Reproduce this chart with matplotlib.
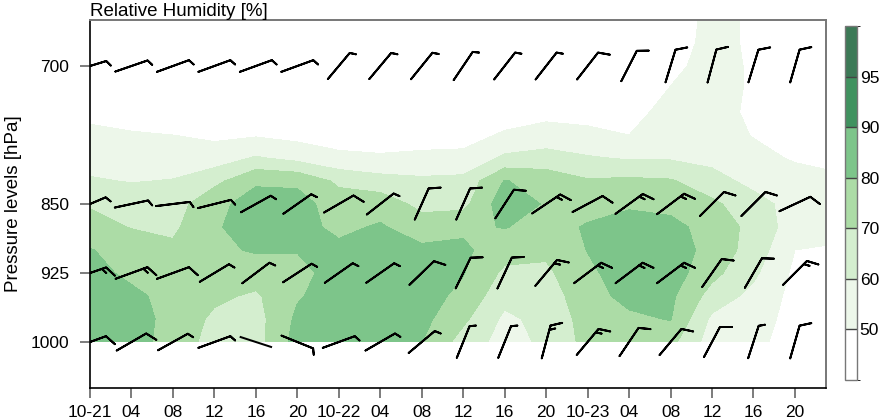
import numpy as np
import matplotlib
matplotlib.use('Agg')
import matplotlib.pyplot as plt
from matplotlib.colors import ListedColormap, BoundaryNorm

plt.rcParams['font.family'] = ['Liberation Sans', 'DejaVu Sans']

# ---------------- data ----------------
hours = [0, 4, 8, 12, 16, 20, 24, 28, 32, 36, 40, 44, 48, 52, 56, 60, 64, 68, 71]
plevs = [1000, 975, 950, 925, 900, 875, 850, 825, 800, 775, 750, 725, 700, 675, 650]

rh_1000 = [85, 84, 76, 66, 66, 84, 86, 87, 80, 66, 56, 62, 73, 74, 73, 55, 53, 45, 44]
rh_975 = [86, 84, 77, 68, 66, 82, 86, 87, 83, 72, 58, 63, 74, 78, 80.5, 58, 55, 46, 45]
rh_950 = [85, 82, 77, 72, 68.5, 79, 85, 86, 84, 77.5, 63, 65, 76, 83, 82, 66, 57, 47, 46]
rh_925 = [83, 78, 75, 75, 75, 77, 84, 85, 84, 80.5, 68, 68, 78, 85, 85, 73, 62, 48, 47]
rh_900 = [80.5, 76, 72, 78, 81, 80.5, 82, 84, 82, 82, 74, 72, 80.3, 85, 86, 76, 66, 50, 49]
rh_875 = [74, 69.5, 68, 79, 84, 83, 78, 81, 75, 78, 80.5, 76, 81, 83, 83, 76, 67, 55, 54]
rh_850 = [69, 66, 65, 78, 83, 84, 75, 76, 67, 67, 86, 79, 76, 79, 77, 72, 64, 56, 55]
rh_825 = [61, 59.5, 60.5, 67, 79, 78, 68, 64, 62, 63, 80.5, 76, 71, 72, 71, 64, 57, 54, 52]
rh_800 = [56, 56, 55, 55, 61, 57, 52, 51, 52, 52, 62, 64, 61, 59, 59, 57, 53, 49, 48]
rh_775 = [53.5, 51, 50, 48, 49, 47, 46, 46, 46, 47, 51, 54, 52, 50, 55, 55, 49.5, 46, 45]
rh_750 = [46, 45, 45, 45, 45, 46, 43, 43, 43, 44, 46, 47, 47, 47, 53, 54, 48, 44, 43]
rh_725 = [40, 41, 41, 42, 41, 42, 41, 41, 41, 42, 43, 44, 44, 45, 50.3, 53, 49, 43, 42]
rh_700 = [38, 38, 38, 39, 39, 40, 39, 39, 39, 40, 41, 42, 42, 43, 48, 53, 49, 42, 41]
rh_675 = [36, 36, 36, 37, 37, 38, 37, 37, 37, 38, 39, 40, 40, 41, 47, 52, 49, 41, 40]
rh_650 = [35, 35, 35, 36, 36, 36, 36, 36, 36, 37, 38, 39, 39, 40, 46, 52, 49, 40, 39]

rh_levels = [0, 50, 60, 70, 80, 90, 95, 100]
rh_colors = ['#ffffff', '#edf7ea', '#d4eecf', '#acdca6', '#7dc58a', '#40925f', '#3c7956']

# wind barbs (every 4 h), tip angle on screen (deg, CCW from +x) and speed
barb_hours = [0, 4, 8, 12, 16, 20, 24, 28, 32, 36, 40, 44, 48, 52, 56, 60, 64, 68]
barb_levels = [700, 850, 925, 1000]
ang_700 = [17, 19, 20, 20, 20, 20, 50, 50, 51, 56, 52, 52, 52, 63, 73, 75, 73, 74]
spd_700 = [5, 5, 5, 5, 5, 5, 5, 5, 5, 5, 5, 5, 10, 10, 10, 10, 10, 10]
ang_850 = [23, 12, 7, 14, 29, 35, 30, 38, 66, 66, 57, 34, 28, 36, 37, 45, 45, 25]
spd_850 = [5, 5, 5, 5, 5, 5, 10, 5, 10, 10, 10, 15, 10, 15, 15, 10, 10, 10]
ang_925 = [19, 20, 20, 31, 37, 33, 35, 35, 44, 64, 65, 50, 37, 37, 37, 55, 60, 45]
spd_925 = [15, 15, 10, 5, 5, 5, 5, 5, 10, 10, 10, 15, 15, 15, 15, 10, 10, 15]
ang_1000 = [20, 30, 29, 20, -18, -22, 20, 30, 40, 68, 68, 75, 50, 56, 50, 62, 72, 74]
spd_1000 = [10, 10, 5, 5, 0, 5, 5, 5, 5, 5, 5, 15, 15, 10, 10, 10, 5, 10]

xtick_hours = list(range(0, 69, 4))
xtick_labels = ['10-21', '04', '08', '12', '16', '20', '10-22', '04', '08', '12',
                '16', '20', '10-23', '04', '08', '12', '16', '20']
ytick_vals = [700, 850, 925, 1000]

# ---------------- figure ----------------
W, H = 880, 418
fig = plt.figure(figsize=(W / 100, H / 100), dpi=100)
ax = fig.add_axes([90 / W, (H - 388) / H, 736 / W, 368 / H])

rh = np.array([rh_1000, rh_975, rh_950, rh_925, rh_900, rh_875, rh_850, rh_825,
               rh_800, rh_775, rh_750, rh_725, rh_700, rh_675, rh_650])
cmap = ListedColormap(rh_colors)
norm = BoundaryNorm(rh_levels, cmap.N)
cf = ax.contourf(hours, plevs, rh, levels=rh_levels, cmap=cmap, norm=norm)

ax.set_xlim(0, 71)
ax.set_ylim(1050, 650)

# barbs
angs = {700: ang_700, 850: ang_850, 925: ang_925, 1000: ang_1000}
spds = {700: spd_700, 850: spd_850, 925: spd_925, 1000: spd_1000}
groups = {'full': ([], [], [], []), 'half': ([], [], [], []), 'none': ([], [], [], [])}
for lev in barb_levels:
    for h, a, s in zip(barb_hours, angs[lev], spds[lev]):
        th = np.deg2rad(a)
        key = 'none' if s == 0 else ('half' if s < 10 else 'full')
        mag = s if s > 0 else 1
        g = groups[key]
        g[0].append(h); g[1].append(lev)
        g[2].append(-mag * np.cos(th)); g[3].append(-mag * np.sin(th))

common = dict(length=7, pivot='middle', color='black', linewidth=1.4, zorder=5)
g = groups['full']
ax.barbs(g[0], g[1], g[2], g[3], sizes=dict(spacing=0.13, height=0.31, width=0.33),
         barb_increments=dict(half=5, full=10, flag=50), **common)
# lone half barbs are drawn at the very tip of the staff (as in the source)
g = groups['half']
ax.barbs(g[0], g[1], g[2], g[3], sizes=dict(spacing=0.13, height=0.165, width=0.175),
         barb_increments=dict(half=2.5, full=5, flag=50), **common)
g = groups['none']
if g[0]:
    ax.quiver(g[0], g[1], [-u for u in g[2]], [-v for v in g[3]], pivot='middle',
              color='black', units='dots', scale_units='dots', scale=1 / 34,
              width=2, headwidth=0, headlength=0, headaxislength=0, zorder=5)

# axes styling
ax.set_xticks(xtick_hours)
ax.set_xticklabels(xtick_labels)
ax.set_yticks(ytick_vals)
ax.set_yticklabels([str(v) for v in ytick_vals])
ax.tick_params(axis='both', direction='out', length=7, width=1.2, colors='#666666',
               labelcolor='black', labelsize=12.5)
ax.tick_params(axis='y', pad=8)
ax.tick_params(axis='x', pad=5)
for sp in ['left', 'bottom']:
    ax.spines[sp].set_color('black')
    ax.spines[sp].set_linewidth(1.2)
for sp in ['top', 'right']:
    ax.spines[sp].set_color('#777777')
    ax.spines[sp].set_linewidth(1.4)

ax.set_title('Relative Humidity [%]', loc='left', fontsize=13.5, pad=3)
ax.set_ylabel('Pressure levels [hPa]', fontsize=13.5)
ax.yaxis.set_label_coords(-0.092, 0.5)

# colorbar
cax = fig.add_axes([845 / W, (H - 380) / H, 12 / W, 354 / H])
cb = fig.colorbar(cf, cax=cax, spacing='uniform', ticks=[50, 60, 70, 80, 90, 95],
                  drawedges=True)
cb.outline.set_edgecolor('#777777')
cb.outline.set_linewidth(1.0)
cb.dividers.set_color('#444444')
cb.dividers.set_linewidth(1.0)
cax.tick_params(length=0, pad=2, labelsize=12.5)

fig.savefig('out.png', dpi=100)
